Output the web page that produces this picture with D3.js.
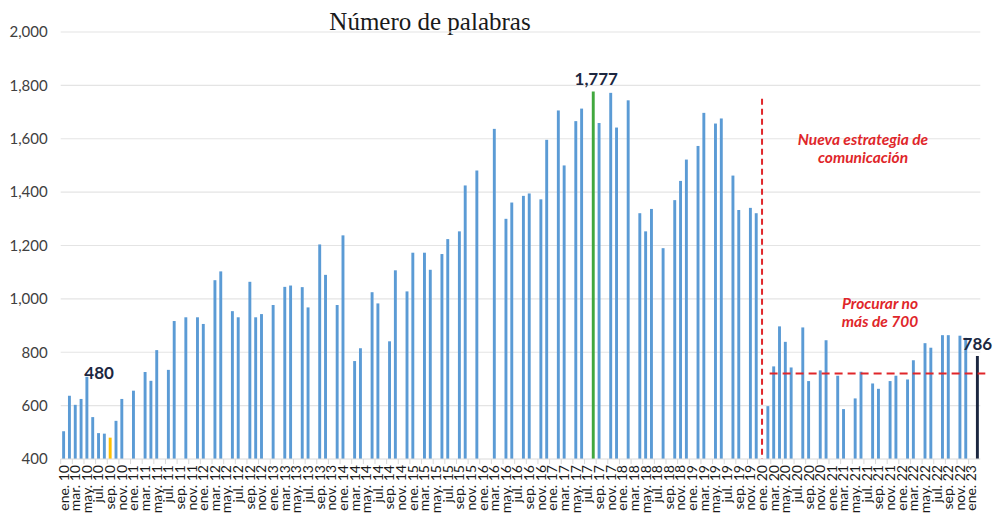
<!DOCTYPE html>
<html>
<head>
<meta charset="utf-8">
<script src="https://cdn.jsdelivr.net/npm/d3@7"></script>
<style>
  body { margin: 0; background: #fff; }
  text { font-family: Lato, "Liberation Sans", sans-serif; }
</style>
</head>
<body>
<div id="chart"></div>
<script>
var margin = { top: 32, right: 17.7, bottom: 59, left: 60.7 };

var width = 998 - margin.left - margin.right,
    height = 518 - margin.top - margin.bottom;

// month labels and years on the x axis
var monthNames = ["ene.", "feb.", "mar.", "abr.", "may.", "jun.", "jul.", "ago.", "sep.", "oct.", "nov.", "dic."];
var years = ["10", "11", "12", "13", "14", "15", "16", "17", "18", "19", "20", "21", "22", "23"];

// words per month (null = no data that month)
var v2010 = [504, 637, 603, 625, 708, 557, 497, 495, 480, 543, 625, null];
var v2011 = [656, null, 726, 693, 808, null, 734, 917, null, 931, null, 931];
var v2012 = [906, null, 1070, 1103, null, 954, 931, null, 1064, 931, 943, null];
var v2013 = [977, null, 1045, 1050, null, 1044, 968, null, 1204, 1090, null, 977];
var v2014 = [1238, null, 767, 815, null, 1025, 983, null, 841, 1107, null, 1028];
var v2015 = [1173, null, 1173, 1109, null, 1168, 1224, null, 1253, 1425, null, 1481];
var v2016 = [null, null, 1637, null, 1300, 1361, null, 1386, 1395, null, 1373, 1596];
var v2017 = [null, 1706, 1500, null, 1666, 1713, null, 1777, 1659, null, 1772, 1642];
var v2018 = [null, 1744, null, 1321, 1253, 1337, null, 1190, null, 1370, 1442, 1522];
var v2019 = [null, 1573, 1697, null, 1657, 1676, null, 1462, 1333, null, 1341, 1321];
var v2020 = [null, 598, 747, 897, 839, 743, null, 893, 692, null, 732, 845];
var v2021 = [null, 712, 587, null, 627, 727, null, 683, 663, null, 692, 712];
var v2022 = [null, 698, 770, null, 834, 817, null, 864, 864, null, 862, 854];
var v2023 = [null, 786];

var valuesByYear = [v2010, v2011, v2012, v2013, v2014, v2015, v2016, v2017, v2018, v2019, v2020, v2021, v2022, v2023];

// highlighted months
var highlightMonths = ["sep. 10", "ago. 17", "feb. 23"];
var highlightColors = ["#ffc000", "#41a83e", "#1c2740"];

var yTicks = [400, 600, 800, 1000, 1200, 1400, 1600, 1800, 2000];

var strategyMonth = "ene. 20";
var targetValue = 720;

var data = [];
valuesByYear.forEach(function (arr, yi) {
  arr.forEach(function (v, mi) {
    data.push({ label: monthNames[mi] + " " + years[yi], value: v });
  });
});

var svg = d3.select("#chart").append("svg")
  .attr("width", 998)
  .attr("height", 518);

svg.append("text")
  .attr("x", 430)
  .attr("y", 30)
  .attr("text-anchor", "middle")
  .style("font-family", "'Liberation Serif', serif")
  .style("font-size", "25px")
  .attr("fill", "#1a1a1a")
  .text("Número de palabras");

var g = svg.append("g")
  .attr("transform", "translate(" + margin.left + "," + margin.top + ")");

var x = d3.scaleBand()
  .domain(data.map(function (d) { return d.label; }))
  .range([0, width])
  .paddingInner(0.5)
  .paddingOuter(0.25);

var y = d3.scaleLinear()
  .domain([400, 2000])
  .range([height, 0]);

// gridlines
g.selectAll(".grid")
  .data(yTicks.slice(1))
  .enter().append("line")
  .attr("x1", 0)
  .attr("x2", width)
  .attr("y1", function (d) { return y(d); })
  .attr("y2", function (d) { return y(d); })
  .attr("stroke", "#e4e4e4")
  .attr("stroke-width", 1.2);

// y axis labels
g.selectAll(".ylab")
  .data(yTicks)
  .enter().append("text")
  .attr("x", -13)
  .attr("y", function (d) { return y(d); })
  .attr("dy", "0.35em")
  .attr("text-anchor", "end")
  .attr("fill", "#404040")
  .style("font-size", "15px")
  .text(d3.format(","));

// bars
var highlightIndex = function (d) { return highlightMonths.indexOf(d.label); };

g.selectAll(".bar")
  .data(data.filter(function (d) { return d.value != null; }))
  .enter().append("rect")
  .attr("x", function (d) { return x(d.label); })
  .attr("width", x.bandwidth())
  .attr("y", function (d) { return y(d.value); })
  .attr("height", function (d) { return height - y(d.value); })
  .attr("fill", function (d) {
    var i = highlightIndex(d);
    return i >= 0 ? highlightColors[i] : "#5b9bd5";
  });

// x axis
var xAxis = g.append("g")
  .attr("transform", "translate(0," + height + ")");

xAxis.append("line")
  .attr("x1", 0)
  .attr("x2", width)
  .attr("stroke", "#d9d9d9");

xAxis.selectAll(".tick")
  .data(data.filter(function (d, i) { return i % 2 === 0; }))
  .enter().append("line")
  .attr("x1", function (d) { return x(d.label) - x.step() * 0.25; })
  .attr("x2", function (d) { return x(d.label) - x.step() * 0.25; })
  .attr("y1", 0)
  .attr("y2", 5)
  .attr("stroke", "#d9d9d9");

xAxis.selectAll(".xlab")
  .data(data.filter(function (d, i) { return i % 2 === 0; }))
  .enter().append("text")
  .attr("transform", function (d) {
    return "translate(" + (x(d.label) + x.bandwidth() / 2) + ",6)rotate(-90)";
  })
  .attr("dy", "0.35em")
  .attr("text-anchor", "end")
  .attr("fill", "#1a1a1a")
  .style("font-size", "14px")
  .text(function (d) { return d.label; });

// data labels on highlighted bars
var labelOffsets = [[-11, -59], [3, -7], [0, -6]];

g.selectAll(".vlab")
  .data(data.filter(function (d) { return highlightIndex(d) >= 0; }))
  .enter().append("text")
  .attr("x", function (d) { return x(d.label) + x.bandwidth() / 2 + labelOffsets[highlightIndex(d)][0]; })
  .attr("y", function (d) { return y(d.value) + labelOffsets[highlightIndex(d)][1]; })
  .attr("text-anchor", "middle")
  .attr("fill", "#1c2740")
  .style("font-size", "17px")
  .style("font-weight", "bold")
  .text(function (d) { return d3.format(",")(d.value); });

// strategy change line
var sx = x(strategyMonth) + x.bandwidth() / 2;

g.append("line")
  .attr("x1", sx)
  .attr("x2", sx)
  .attr("y1", y(1750))
  .attr("y2", height)
  .attr("stroke", "#e0262a")
  .attr("stroke-width", 2)
  .attr("stroke-dasharray", "6,4");

g.append("line")
  .attr("x1", sx + x.step() * 1.3)
  .attr("x2", width + 5)
  .attr("y1", y(targetValue))
  .attr("y2", y(targetValue))
  .attr("stroke", "#e0262a")
  .attr("stroke-width", 2)
  .attr("stroke-dasharray", "8,5");

var notes = [
  { x: 863, y: 145, text: "Nueva estrategia de" },
  { x: 863, y: 163, text: "comunicación" },
  { x: 880, y: 309, text: "Procurar no" },
  { x: 880, y: 327, text: "más de 700" }
];

svg.selectAll(".note")
  .data(notes)
  .enter().append("text")
  .attr("x", function (d) { return d.x; })
  .attr("y", function (d) { return d.y; })
  .attr("text-anchor", "middle")
  .attr("fill", "#e0262a")
  .style("font-size", "15.5px")
  .style("font-weight", "bold")
  .style("font-style", "italic")
  .text(function (d) { return d.text; });
</script>
</body>
</html>
